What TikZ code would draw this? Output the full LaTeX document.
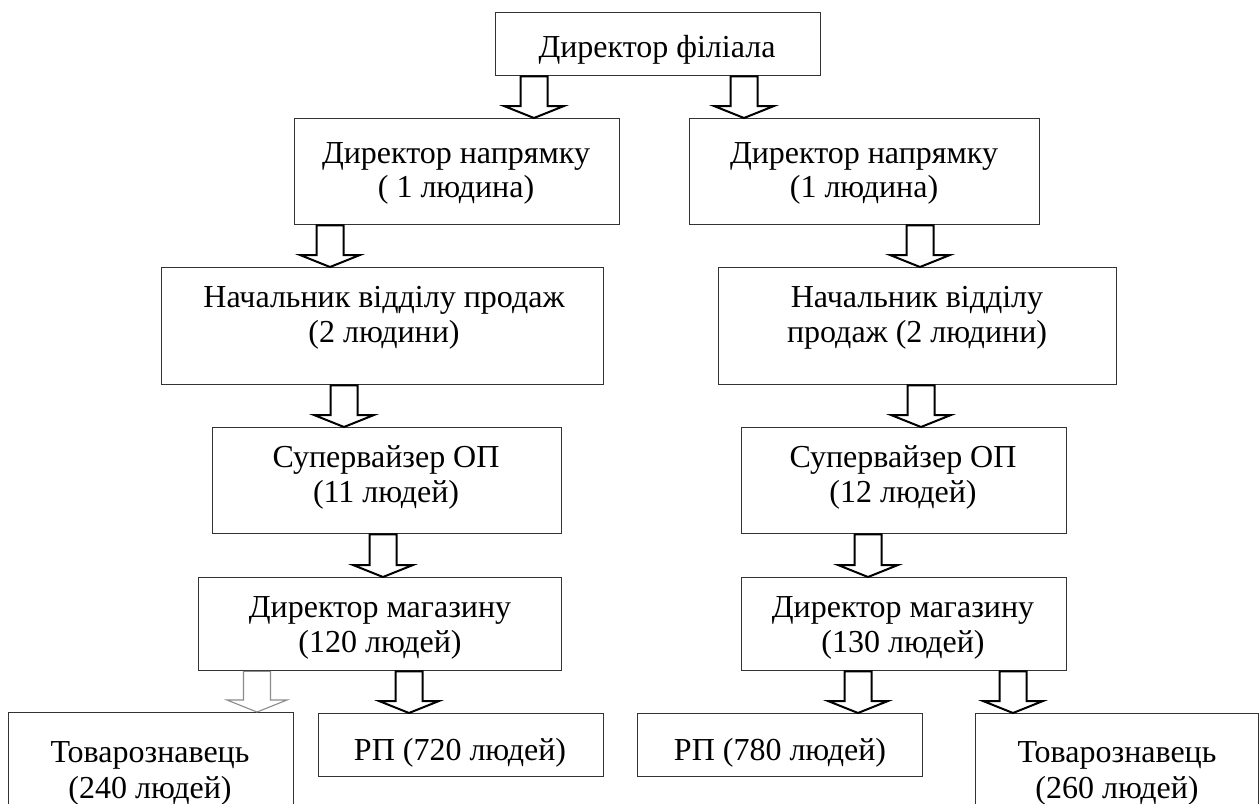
\documentclass[tikz,border=0pt]{standalone}
\usepackage{fontspec}
\setmainfont{Liberation Serif}
\usetikzlibrary{calc}
\tikzset{
  box/.style={draw=black!80, line width=1.3pt, anchor=north west, inner sep=0pt, rectangle},
  lbl/.style={anchor=base, inner sep=0pt, font=\fontsize{32}{35}\selectfont},
  barrowline/.style={draw=black, line width=2pt, fill=white, line join=miter},
  grayarrow/.style={draw=black!45, line width=1.1pt, fill=white, line join=miter},
}
\newcommand\bx[5]{\node[box, minimum width={(#4-#2)*1pt}, minimum height={(#5-#3)*1pt}] (#1) at (#2,#3) {};}
\newcommand\barr[4][barrowline]{%
  \draw[#1] let \p1=(#2.south), \p2=(#3.north) in
    (#4pt-13.5pt,\y1) -- (#4pt-13.5pt,\y2+12pt) -- (#4pt-30pt,\y2+12pt) -- (#4pt,\y2)
    -- (#4pt+30pt,\y2+12pt) -- (#4pt+13.5pt,\y2+12pt) -- (#4pt+13.5pt,\y1) -- cycle;}
\begin{document}
\begin{tikzpicture}[x=1pt,y=-1pt]
\useasboundingbox (0,0) rectangle (1260,803);
\fill[white] (0,0) rectangle (1260,803);
\clip (0,0) rectangle (1260,803);
% boxes
\bx{b0}{495}{12}{820}{75}
\bx{b1L}{294}{118}{619}{224}
\bx{b1R}{689}{118}{1039}{224}
\bx{b2L}{161}{267}{603}{384}
\bx{b2R}{718}{267}{1116}{384}
\bx{b3L}{212}{427}{561}{533}
\bx{b3R}{741}{427}{1066}{533}
\bx{b4L}{198}{577}{561}{670}
\bx{b4R}{741}{577}{1066}{670}
\bx{b5a}{8}{712}{293}{840}
\bx{b5b}{318}{713}{603}{776}
\bx{b5c}{637}{713}{922}{776}
\bx{b5d}{975}{713}{1258}{840}
% texts
\node[lbl] (t0) at (657,57) {Директор філіала};
\node[lbl] (t1La) at (456,163) {Директор напрямку};
\node[lbl] (t1Lb) at (456,197) {( 1 людина)};
\node[lbl] (t1Ra) at (864,163) {Директор напрямку};
\node[lbl] (t1Rb) at (864,197) {(1 людина)};
\node[lbl] (t2La) at (384,307) {Начальник відділу продаж};
\node[lbl] (t2Lb) at (384,342) {(2 людини)};
\node[lbl] (t2Ra) at (917,307) {Начальник відділу};
\node[lbl] (t2Rb) at (917,342) {продаж (2 людини)};
\node[lbl] (t3La) at (386,467) {Супервайзер ОП};
\node[lbl] (t3Lb) at (386,502) {(11 людей)};
\node[lbl] (t3Ra) at (903,467) {Супервайзер ОП};
\node[lbl] (t3Rb) at (903,502) {(12 людей)};
\node[lbl] (t4La) at (380,617) {Директор магазину};
\node[lbl] (t4Lb) at (380,652) {(120 людей)};
\node[lbl] (t4Ra) at (903,617) {Директор магазину};
\node[lbl] (t4Rb) at (903,652) {(130 людей)};
\node[lbl] (t5aa) at (150,762) {Товарознавець};
\node[lbl] (t5ab) at (150,798) {(240 людей)};
\node[lbl] (t5b) at (460,760) {РП (720 людей)};
\node[lbl] (t5c) at (780,760) {РП (780 людей)};
\node[lbl] (t5da) at (1117,762) {Товарознавець};
\node[lbl] (t5db) at (1117,798) {(260 людей)};
% arrows
\barr{b0}{b1L}{534}
\barr{b0}{b1R}{744}
\barr{b1L}{b2L}{330}
\barr{b1R}{b2R}{920}
\barr{b2L}{b3L}{344}
\barr{b2R}{b3R}{921}
\barr{b3L}{b4L}{383}
\barr{b3R}{b4R}{868}
\barr[grayarrow]{b4L}{b5a}{257}
\barr{b4L}{b5b}{409}
\barr{b4R}{b5c}{858}
\barr{b4R}{b5d}{1013}
\end{tikzpicture}
\end{document}
